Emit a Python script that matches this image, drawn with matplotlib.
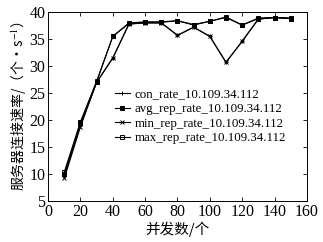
import matplotlib
matplotlib.use("Agg")
import matplotlib.pyplot as plt

plt.rcParams['font.family'] = ['Liberation Serif', 'Noto Sans CJK SC']
plt.rcParams['mathtext.fontset'] = 'stix'

# concurrency levels
concurrency = [10, 20, 30, 40, 50, 60, 70, 80, 90, 100, 110, 120, 130, 140, 150]

con_rate = [9.6, 19.0, 27.0, 31.5, 37.8, 38.0, 38.0, 35.7, 37.2, 35.5, 30.7, 34.6, 38.7, 39.0, 38.8]
avg_rep_rate = [10.0, 19.4, 27.1, 35.5, 37.9, 38.1, 38.1, 38.4, 37.6, 38.3, 39.0, 37.6, 38.8, 39.0, 38.8]
min_rep_rate = [9.2, 18.8, 27.0, 31.5, 37.8, 38.0, 38.0, 35.7, 37.2, 35.5, 30.7, 34.6, 38.7, 39.0, 38.8]
max_rep_rate = [10.4, 19.7, 27.2, 35.5, 38.0, 38.2, 38.2, 38.4, 37.7, 38.3, 39.1, 37.6, 38.9, 39.0, 38.9]

series = [
    ("con_rate_10.109.34.112", con_rate, '+'),
    ("avg_rep_rate_10.109.34.112", avg_rep_rate, 's'),
    ("min_rep_rate_10.109.34.112", min_rep_rate, 'x'),
    ("max_rep_rate_10.109.34.112", max_rep_rate, 's'),
]

fig = plt.figure(figsize=(3.23, 2.42), dpi=100)
ax = fig.add_axes([0.149, 0.169, 0.801, 0.781])

for i, (label, vals, mk) in enumerate(series):
    face = 'black' if i == 1 else 'none'
    ax.plot(concurrency, vals, color='black', lw=0.8, marker=mk,
            markersize=3.3, markerfacecolor=face, markeredgewidth=0.7, label=label)

ax.set_xlim(0, 160)
ax.set_ylim(5, 40)
ax.set_xticks(range(0, 161, 20))
ax.set_yticks(range(5, 41, 5))
ax.tick_params(direction='in', top=True, right=True, labelsize=11.5, length=3, width=0.6, pad=2)
for s in ax.spines.values():
    s.set_linewidth(0.7)

cjk = ['Noto Sans CJK SC', 'DejaVu Sans']
ax.set_xlabel("并发数/个", fontsize=10.5, labelpad=1, family=cjk)
ax.set_ylabel("服务器连接速率/（个•s$^{-1}$）", fontsize=10, labelpad=0, family=cjk)

ax.legend(loc='upper left', bbox_to_anchor=(0.235, 0.63), frameon=False, fontsize=9.3,
          handlelength=1.1, handletextpad=0.4, labelspacing=0.2, borderpad=0)

fig.savefig("out.png", dpi=100)
